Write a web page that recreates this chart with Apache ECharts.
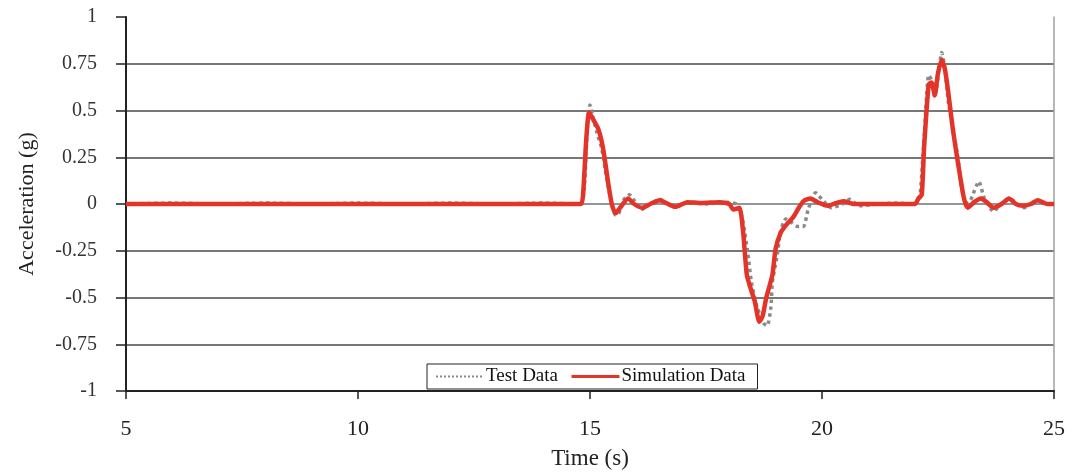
<!DOCTYPE html>
<html>
<head>
<meta charset="utf-8">
<script src="https://cdn.jsdelivr.net/npm/echarts@6/dist/echarts.min.js"></script>
<style>
html,body{margin:0;padding:0;background:#fff;overflow:hidden;}
#chart{width:1069px;height:475px;}
</style>
</head>
<body>
<div id="chart"></div>
<script>
var xTicks = [5, 10, 15, 20, 25];
var yTicks = [-1, -0.75, -0.5, -0.25, 0, 0.25, 0.5, 0.75, 1];

var testTime = [5, 6, 7, 8, 9, 10, 11, 12, 13, 14, 14.8, 14.88, 14.95, 15.0, 15.05, 15.15, 15.25, 15.35, 15.45, 15.55, 15.62, 15.72, 15.85, 15.95, 16.1, 16.3, 16.5, 16.7, 16.85, 17.1, 17.5, 17.9, 18.15, 18.25, 18.3, 18.4, 18.48, 18.6, 18.75, 18.82, 18.9, 18.93, 19.05, 19.1, 19.22, 19.35, 19.47, 19.6, 19.7, 19.86, 20.0, 20.2, 20.45, 20.6, 20.8, 21.2, 21.6, 22.0, 22.1, 22.2, 22.3, 22.37, 22.45, 22.52, 22.58, 22.65, 22.72, 22.82, 22.93, 23.0, 23.1, 23.2, 23.38, 23.5, 23.7, 23.85, 24.05, 24.2, 24.35, 24.5, 24.65, 24.85, 25];
var testValue = [0, 0.005, 0, 0.005, 0, 0.005, 0, 0.005, 0, 0.005, 0, 0.1, 0.45, 0.53, 0.48, 0.38, 0.3, 0.15, 0.02, -0.06, -0.05, 0.02, 0.05, 0.02, -0.03, 0.0, 0.025, 0.0, -0.02, 0.01, 0.0, 0.01, 0.0, -0.05, -0.1, -0.26, -0.42, -0.55, -0.64, -0.65, -0.55, -0.42, -0.25, -0.15, -0.08, -0.1, -0.12, -0.12, -0.03, 0.06, 0.025, -0.02, 0.0, 0.025, -0.01, 0.0, 0.005, 0.0, 0.02, 0.35, 0.69, 0.66, 0.6, 0.72, 0.81, 0.72, 0.55, 0.4, 0.25, 0.1, 0.0, 0.02, 0.12, 0.03, -0.04, 0.0, 0.03, 0.0, -0.02, 0.0, 0.02, 0.0, 0];

var simTime = [5, 14.8, 14.85, 14.92, 14.98, 15.05, 15.18, 15.28, 15.4, 15.47, 15.55, 15.65, 15.82, 15.95, 16.12, 16.3, 16.5, 16.68, 16.84, 17.1, 17.4, 17.8, 18.0, 18.09, 18.22, 18.3, 18.38, 18.46, 18.55, 18.65, 18.72, 18.8, 18.93, 19.0, 19.1, 19.2, 19.38, 19.5, 19.6, 19.75, 19.9, 20.12, 20.3, 20.46, 20.7, 22.0, 22.08, 22.15, 22.2, 22.3, 22.36, 22.43, 22.5, 22.58, 22.65, 22.72, 22.82, 22.93, 23.06, 23.14, 23.28, 23.42, 23.55, 23.7, 23.87, 24.03, 24.18, 24.33, 24.5, 24.65, 24.85, 25];
var simValue = [0, 0, 0.05, 0.35, 0.49, 0.46, 0.4, 0.3, 0.1, 0, -0.05, -0.02, 0.03, 0.0, -0.02, 0.0, 0.02, 0.0, -0.015, 0.01, 0.005, 0.01, 0.0, -0.03, -0.02, -0.15, -0.38, -0.45, -0.52, -0.63, -0.6, -0.5, -0.38, -0.24, -0.16, -0.12, -0.07, -0.02, 0.015, 0.03, 0.01, -0.01, 0.005, 0.015, 0.0, 0.0, 0.03, 0.05, 0.3, 0.64, 0.65, 0.58, 0.7, 0.77, 0.72, 0.6, 0.4, 0.22, 0.03, -0.02, 0.01, 0.03, 0.01, -0.02, 0.0, 0.03, 0.0, -0.01, 0.0, 0.02, 0.0, 0];

function pairs(t, v) { return t.map(function (x, i) { return [x, v[i]]; }); }

var serif = 'Liberation Serif';
var chart = echarts.init(document.getElementById('chart'), null, {renderer: 'canvas', width: 1069, height: 475});
chart.setOption({
  animation: false,
  backgroundColor: '#fff',
  grid: {left: 126, top: 17, width: 928, height: 380, containLabel: false},
  legend: {
    left: 427, top: 364,
    orient: 'horizontal',
    backgroundColor: '#fff',
    borderColor: '#222', borderWidth: 1,
    padding: [3, 12, 3, 8],
    itemWidth: 48, itemHeight: 14, itemGap: 12,
    textStyle: {fontFamily: serif, fontSize: 19, color: '#111', padding: [0, 0, 0, -3]},
    data: [
      {name: 'Test Data', itemStyle: {opacity: 0}, lineStyle: {type: 'dotted', color: '#8a8a8a', width: 2}},
      {name: 'Simulation Data', itemStyle: {opacity: 0}, lineStyle: {color: '#e3342a', width: 3}}
    ]
  },
  xAxis: [{
    type: 'value', min: 5, max: 25, interval: 5,
    axisLine: {show: true, onZero: false, lineStyle: {color: '#222', width: 2}},
    axisTick: {show: true, inside: false, length: 8, lineStyle: {color: '#222', width: 1.5}},
    axisLabel: {fontFamily: serif, fontSize: 22, color: '#222', margin: 27,
      formatter: function (v) { return xTicks.indexOf(v) >= 0 ? String(v) : ''; }},
    splitLine: {show: false},
    name: 'Time (s)', nameLocation: 'middle', nameGap: 56,
    nameTextStyle: {fontFamily: serif, fontSize: 23, color: '#222'}
  }, {
    type: 'value', position: 'top', min: 5, max: 25,
    axisLine: {show: true, lineStyle: {color: '#a0a0a0', width: 1.5}},
    axisTick: {show: false}, axisLabel: {show: false}, splitLine: {show: false}
  }],
  yAxis: [{
    type: 'value', min: -1, max: 1, interval: 0.25,
    axisLine: {show: true, onZero: false, lineStyle: {color: '#222', width: 2}},
    axisTick: {show: true, inside: false, length: 10, lineStyle: {color: '#222', width: 1.5}},
    axisLabel: {fontFamily: serif, fontSize: 20, color: '#333', margin: 29,
      formatter: function (v) {
        for (var i = 0; i < yTicks.length; i++) { if (Math.abs(yTicks[i] - v) < 1e-9) return String(yTicks[i]); }
        return '';
      }},
    splitLine: {show: true, showMinLine: false, showMaxLine: false, lineStyle: {color: '#4a4a4a', width: 1.5}},
    name: 'Acceleration (g)', nameLocation: 'middle', nameGap: 88, nameRotate: 90,
    nameTextStyle: {fontFamily: serif, fontSize: 22, color: '#222'}
  }, {
    type: 'value', position: 'right', min: -1, max: 1,
    axisLine: {show: true, lineStyle: {color: '#a0a0a0', width: 1.5}},
    axisTick: {show: false}, axisLabel: {show: false}, splitLine: {show: false}
  }],
  series: [{
    name: 'Test Data', type: 'line', symbol: 'none', smooth: 0.2,
    xAxisIndex: 0, yAxisIndex: 0,
    lineStyle: {color: '#8a8a8a', width: 3.5, type: 'dotted'},
    itemStyle: {color: '#8a8a8a'},
    data: pairs(testTime, testValue), z: 3
  }, {
    name: 'Simulation Data', type: 'line', symbol: 'none', smooth: 0.2,
    xAxisIndex: 0, yAxisIndex: 0,
    lineStyle: {color: '#e3342a', width: 4.5},
    itemStyle: {color: '#e3342a'},
    data: pairs(simTime, simValue), z: 4
  }]
});
</script>
</body>
</html>
